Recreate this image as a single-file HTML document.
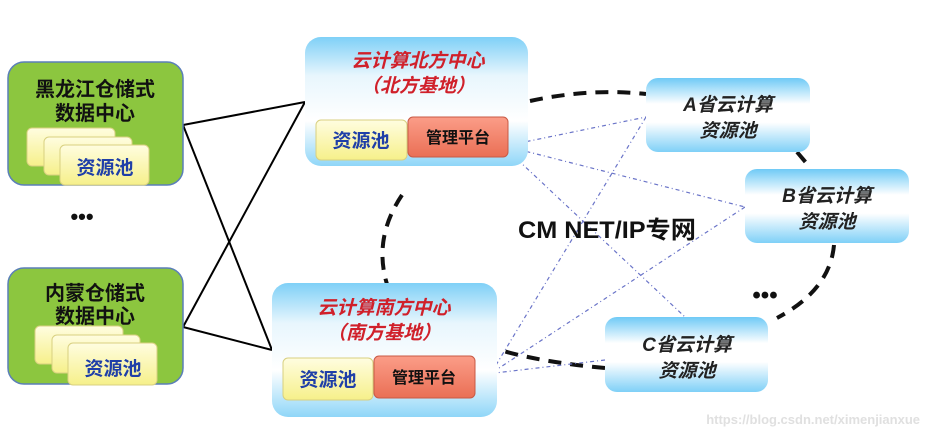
<!DOCTYPE html>
<html><head><meta charset="utf-8"><style>
html,body{margin:0;padding:0;background:#fff;}
svg{display:block;}
text{font-family:"Liberation Sans","Noto Sans CJK SC",sans-serif;font-weight:bold;}
</style></head><body>
<svg width="928" height="437" viewBox="0 0 928 437" xmlns="http://www.w3.org/2000/svg">
<defs>
<linearGradient id="bl" x1="0" y1="0" x2="0" y2="1">
<stop offset="0" stop-color="#7fd0f7"/><stop offset="0.3" stop-color="#e8f6fd"/><stop offset="0.65" stop-color="#ffffff"/><stop offset="1" stop-color="#8fd6f8"/></linearGradient>
<linearGradient id="bl2" x1="0" y1="0" x2="0" y2="1">
<stop offset="0" stop-color="#6fcaf6"/><stop offset="0.35" stop-color="#ffffff"/><stop offset="0.6" stop-color="#ffffff"/><stop offset="1" stop-color="#7fd0f7"/></linearGradient>
<linearGradient id="yl" x1="0" y1="0" x2="0" y2="1"><stop offset="0" stop-color="#fffde0"/><stop offset="1" stop-color="#f6f08a"/></linearGradient>
<linearGradient id="rd" x1="0" y1="0" x2="0" y2="1"><stop offset="0" stop-color="#fb9d88"/><stop offset="1" stop-color="#ea6f55"/></linearGradient>
</defs>

<!-- dashed ring -->
<g fill="none" stroke="#111" stroke-width="4" stroke-dasharray="13,9">
<path d="M530,101 Q590,88 646,94"/>
<path d="M797,152 L808,165"/>
<path d="M834,245 Q830,290 777,318"/>
<path d="M605,368 Q540,362 500,350"/>
<path d="M402,195 Q365,250 398,310"/>
</g>

<!-- dotted blue links -->
<g fill="none" stroke="#6a74c8" stroke-width="1.2" stroke-dasharray="4,3,1,3">
<path d="M505,146 L646,117"/>
<path d="M505,146 L745,207"/>
<path d="M518,160 L685,317"/>
<path d="M646,117 L493,370"/>
<path d="M745,207 L493,372"/>
<path d="M605,360 L478,375"/>
</g>

<!-- cross lines -->
<g stroke="#000" stroke-width="2" fill="none">
<path d="M183,125 L305,102"/>
<path d="M183,125 L272,350"/>
<path d="M183,327 L305,102"/>
<path d="M183,327 L272,350"/>
</g>

<!-- green boxes -->
<rect x="8" y="62" width="175" height="123" rx="16" fill="#8cc63f" stroke="#5b7fb8" stroke-width="1.5"/>
<text x="95" y="96" font-size="20" text-anchor="middle" fill="#111">黑龙江仓储式</text>
<text x="95" y="120" font-size="20" text-anchor="middle" fill="#111">数据中心</text>
<rect x="27" y="128" width="88" height="38" rx="5" fill="url(#yl)" stroke="#d8d080"/>
<rect x="44" y="137" width="88" height="38" rx="5" fill="url(#yl)" stroke="#d8d080"/>
<rect x="60" y="145" width="89" height="40" rx="5" fill="url(#yl)" stroke="#d8d080"/>
<text x="105" y="174" font-size="19" text-anchor="middle" fill="#1f3fa8">资源池</text>

<text x="82" y="224" font-size="22" text-anchor="middle" fill="#111">•••</text>

<rect x="8" y="268" width="175" height="116" rx="16" fill="#8cc63f" stroke="#5b7fb8" stroke-width="1.5"/>
<text x="95" y="300" font-size="20" text-anchor="middle" fill="#111">内蒙仓储式</text>
<text x="95" y="323" font-size="20" text-anchor="middle" fill="#111">数据中心</text>
<rect x="35" y="326" width="88" height="38" rx="5" fill="url(#yl)" stroke="#d8d080"/>
<rect x="52" y="335" width="88" height="38" rx="5" fill="url(#yl)" stroke="#d8d080"/>
<rect x="68" y="343" width="89" height="42" rx="5" fill="url(#yl)" stroke="#d8d080"/>
<text x="113" y="375" font-size="19" text-anchor="middle" fill="#1f3fa8">资源池</text>

<!-- north -->
<rect x="305" y="37" width="223" height="129" rx="16" fill="url(#bl)"/>
<text x="418" y="67" font-size="19" font-style="italic" text-anchor="middle" fill="#d0202a">云计算北方中心</text>
<text x="418" y="92" font-size="19" font-style="italic" text-anchor="middle" fill="#d0202a">（北方基地）</text>
<rect x="316" y="120" width="91" height="40" rx="5" fill="url(#yl)" stroke="#d8d080"/>
<text x="361" y="147" font-size="19" text-anchor="middle" fill="#1f3fa8">资源池</text>
<rect x="408" y="117" width="100" height="40" rx="5" fill="url(#rd)" stroke="#c85a45"/>
<text x="458" y="143" font-size="16" text-anchor="middle" fill="#111">管理平台</text>

<!-- south -->
<rect x="272" y="283" width="225" height="134" rx="16" fill="url(#bl)"/>
<text x="384" y="314" font-size="19" font-style="italic" text-anchor="middle" fill="#d0202a">云计算南方中心</text>
<text x="384" y="339" font-size="19" font-style="italic" text-anchor="middle" fill="#d0202a">（南方基地）</text>
<rect x="283" y="358" width="90" height="42" rx="5" fill="url(#yl)" stroke="#d8d080"/>
<text x="328" y="386" font-size="19" text-anchor="middle" fill="#1f3fa8">资源池</text>
<rect x="374" y="356" width="101" height="42" rx="5" fill="url(#rd)" stroke="#c85a45"/>
<text x="424" y="383" font-size="16" text-anchor="middle" fill="#111">管理平台</text>

<!-- provinces -->
<rect x="646" y="78" width="164" height="74" rx="12" fill="url(#bl2)"/>
<text x="728" y="111" font-size="19" font-style="italic" text-anchor="middle" fill="#222" font-weight="normal">A省云计算</text>
<text x="728" y="137" font-size="19" font-style="italic" text-anchor="middle" fill="#222" font-weight="normal">资源池</text>
<rect x="745" y="169" width="164" height="74" rx="12" fill="url(#bl2)"/>
<text x="827" y="202" font-size="19" font-style="italic" text-anchor="middle" fill="#222" font-weight="normal">B省云计算</text>
<text x="827" y="228" font-size="19" font-style="italic" text-anchor="middle" fill="#222" font-weight="normal">资源池</text>
<rect x="605" y="317" width="163" height="75" rx="12" fill="url(#bl2)"/>
<text x="687" y="351" font-size="19" font-style="italic" text-anchor="middle" fill="#222" font-weight="normal">C省云计算</text>
<text x="687" y="377" font-size="19" font-style="italic" text-anchor="middle" fill="#222" font-weight="normal">资源池</text>

<text x="518" y="238" font-size="24" fill="#111" textLength="178" lengthAdjust="spacingAndGlyphs">CM NET/IP专网</text>
<text x="765" y="303" font-size="24" text-anchor="middle" fill="#111">•••</text>

<text x="920" y="424" font-size="13" text-anchor="end" fill="#e0e0e0" font-weight="normal">https://blog.csdn.net/ximenjianxue</text>
</svg>
</body></html>
